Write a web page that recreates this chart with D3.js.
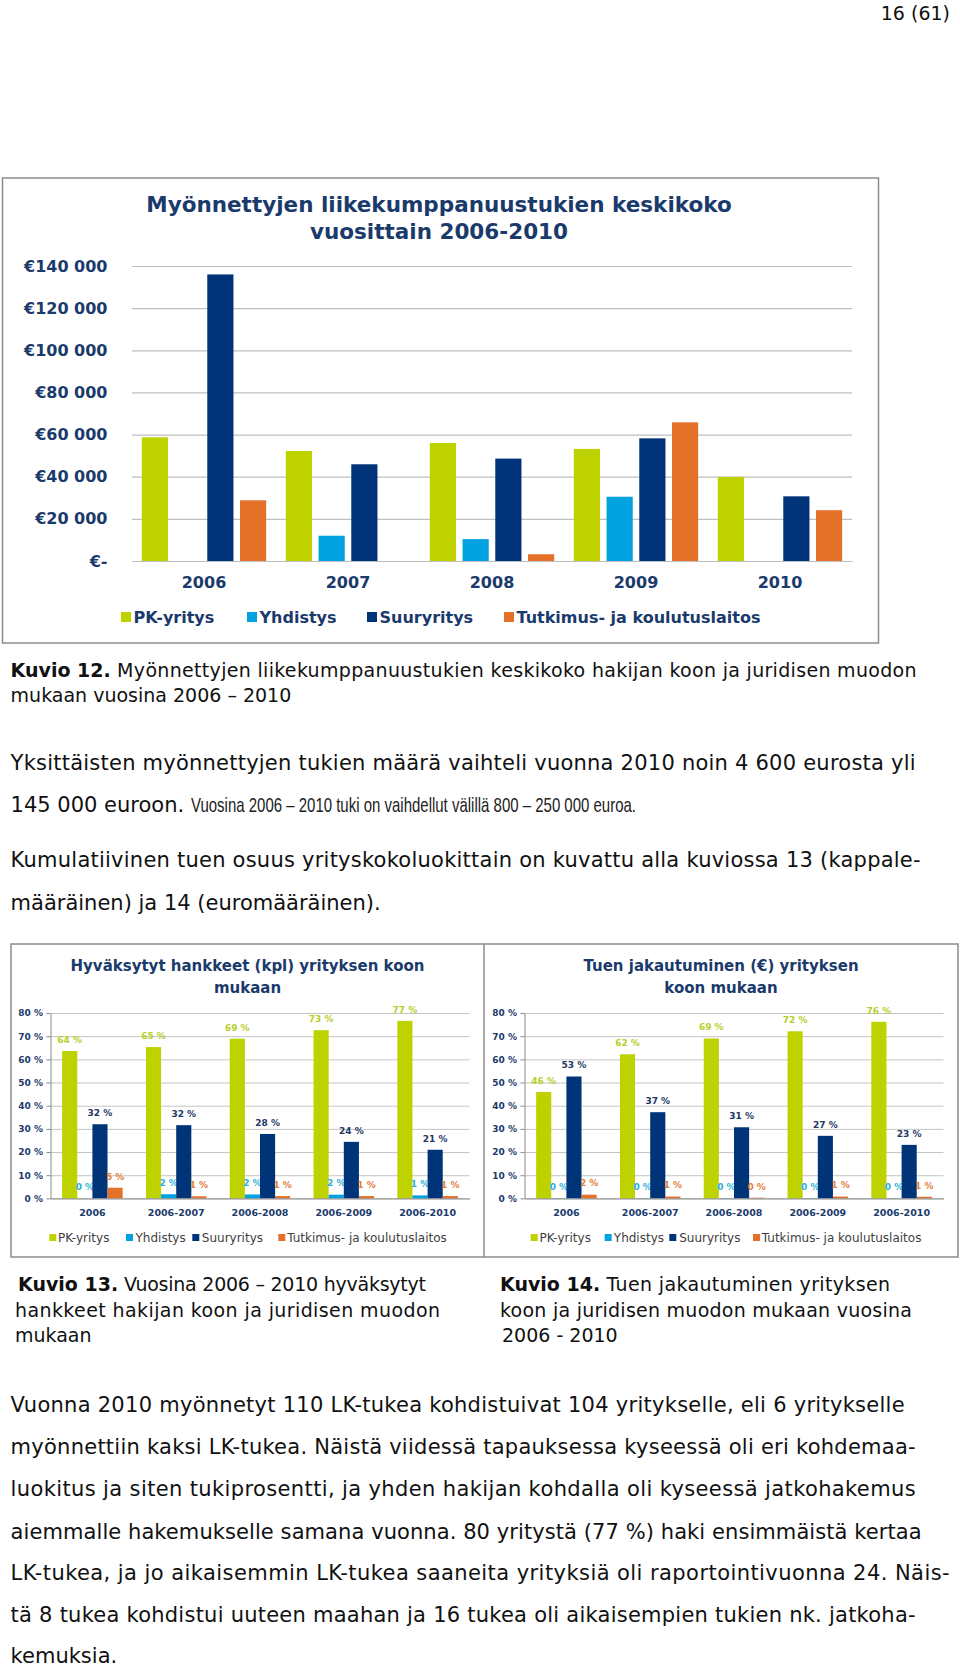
<!DOCTYPE html>
<html>
<head>
<meta charset="utf-8">
<script src="https://cdn.jsdelivr.net/npm/d3@7"></script>
<style>
  body { margin: 0; background: #fff; }
  svg text { font-family: "DejaVu Sans", Verdana, sans-serif; }
</style>
</head>
<body>
<div id="page"></div>
<script>
// Kuvio 12: average grant size per year (euros)
var years = ["2006", "2007", "2008", "2009", "2010"];
var seriesNames = ["PK-yritys", "Yhdistys", "Suuryritys", "Tutkimus- ja koulutuslaitos"];
var pkAvg = [58700, 52200, 56000, 53200, 39900];
var yhdAvg = [0, 12000, 10400, 30500, 0];
var suurAvg = [136000, 45900, 48600, 58200, 30700];
var tutkAvg = [28800, 0, 3200, 65800, 24100];
var euroTicks = [0, 20000, 40000, 60000, 80000, 100000, 120000, 140000];

// Kuvio 13 / 14: cumulative shares (%)
var periods = ["2006", "2006-2007", "2006-2008", "2006-2009", "2006-2010"];
var kplPK = [63.6, 65.3, 68.9, 72.6, 76.6];
var kplYhd = [0, 1.8, 1.7, 1.6, 1.3];
var kplSuur = [32.0, 31.6, 27.8, 24.4, 21.0];
var kplTutk = [4.6, 0.9, 1.0, 1.0, 1.0];
var eurPK = [45.9, 62.2, 69.0, 72.1, 76.2];
var eurYhd = [0.1, 0.1, 0.1, 0.1, 0.1];
var eurSuur = [52.6, 37.2, 30.7, 27.0, 23.1];
var eurTutk = [1.6, 0.8, 0.3, 0.8, 0.7];
var pctTicks = [0, 10, 20, 30, 40, 50, 60, 70, 80];

var colors = ["#BED200", "#00A3E0", "#003478", "#E4702A"];
var labelColors = ["#B9CE2A", "#2EB0D8", "#1F3864", "#E2803A"];
var navy = "#1B3A6C";

var svg = d3.select("#page").append("svg")
  .attr("width", 960)
  .attr("height", 1667)
  .attr("viewBox", "0 0 960 1667");

svg.append("rect").attr("width", 960).attr("height", 1667).attr("fill", "#fff");

// ---------- plain text helpers ----------
function textLine(x, y, parts, opt) {
  var size = opt.size || 21;
  var cx = x;
  var total = 0;
  var nodes = [];
  parts.forEach(function(p) {
    var t = svg.append("text")
      .attr("x", cx)
      .attr("y", y)
      .attr("font-size", size)
      .attr("font-weight", p.b ? "bold" : "normal")
      .attr("fill", "#111")
      .text(p.t);
    var w = t.node().getComputedTextLength();
    nodes.push({ t: t, w: w });
    cx += w;
    total += w;
  });
  // stretch the last (regular) part so the line ends at the measured width
  if (opt.w) {
    var last = nodes[nodes.length - 1];
    var fixed = total - last.w;
    last.t.attr("textLength", opt.w - fixed).attr("lengthAdjust", "spacing");
  }
  return cx;
}

var sp = "\u00a0";

// page number
svg.append("text")
  .attr("x", 950)
  .attr("y", 20)
  .attr("text-anchor", "end")
  .attr("font-size", 19)
  .attr("fill", "#111")
  .text("16 (61)");

// ---------- Kuvio 12 chart ----------
var c1 = svg.append("g");
c1.append("rect")
  .attr("x", 2.5).attr("y", 178)
  .attr("width", 876).attr("height", 465)
  .attr("fill", "#fff")
  .attr("stroke", "#8c8c8c")
  .attr("stroke-width", 1.5);

c1.append("text")
  .attr("x", 439).attr("y", 212)
  .attr("text-anchor", "middle")
  .attr("font-size", 21.5).attr("font-weight", "bold")
  .attr("fill", navy)
  .text("Myönnettyjen liikekumppanuustukien keskikoko");
c1.append("text")
  .attr("x", 439).attr("y", 238.5)
  .attr("text-anchor", "middle")
  .attr("font-size", 21.5).attr("font-weight", "bold")
  .attr("fill", navy)
  .text("vuosittain 2006-2010");

var xYear = d3.scaleBand().domain(years).range([132, 852]);
var xSeries = d3.scaleBand().domain(d3.range(4))
  .range([0, xYear.bandwidth()])
  .paddingInner(0.2)
  .paddingOuter(0.3);
var yEuro = d3.scaleLinear().domain([0, 140000]).range([561, 266]);

function fmtEuro(v) {
  if (v === 0) return "€-";
  return "€" + d3.format(",")(v).replace(/,/g, " ");
}

var yAxis1 = c1.append("g")
  .attr("transform", "translate(132,0)")
  .call(d3.axisLeft(yEuro).tickValues(euroTicks).tickSize(-720).tickPadding(24.5).tickFormat(fmtEuro));
yAxis1.select(".domain").remove();
yAxis1.selectAll("line").attr("stroke", "#BFBFBF").attr("stroke-width", 1.2);
yAxis1.selectAll("text")
  .attr("font-size", 16).attr("font-weight", "bold")
  .attr("fill", navy)
  .style("font-family", "DejaVu Sans");

var avgSeries = [pkAvg, yhdAvg, suurAvg, tutkAvg];
avgSeries.forEach(function(vals, i) {
  c1.append("g")
    .selectAll("rect")
    .data(vals)
    .enter()
    .append("rect")
    .attr("x", (d, j) => xYear(years[j]) + xSeries(i))
    .attr("y", d => yEuro(d))
    .attr("width", xSeries.bandwidth())
    .attr("height", d => yEuro(0) - yEuro(d))
    .attr("fill", colors[i]);
});

var xAxis1 = c1.append("g")
  .attr("transform", "translate(0,561)")
  .call(d3.axisBottom(xYear).tickSize(0).tickPadding(15.5));
xAxis1.select(".domain").attr("stroke", "#BFBFBF").attr("stroke-width", 1.2);
xAxis1.selectAll("text")
  .attr("font-size", 16).attr("font-weight", "bold")
  .attr("fill", navy)
  .style("font-family", "DejaVu Sans");

var legend1X = [121, 247, 367, 504];
seriesNames.forEach(function(name, i) {
  c1.append("rect")
    .attr("x", legend1X[i]).attr("y", 612)
    .attr("width", 10).attr("height", 10)
    .attr("fill", colors[i]);
  c1.append("text")
    .attr("x", legend1X[i] + 12.5).attr("y", 623)
    .attr("font-size", 16).attr("font-weight", "bold")
    .attr("fill", navy)
    .text(name);
});

// caption + paragraph
textLine(10.6, 676.5, [{ t: "Kuvio 12.", b: true }, { t: sp + "Myönnettyjen liikekumppanuustukien keskikoko hakijan koon ja juridisen muodon" }], { size: 19, w: 906 });
textLine(10.6, 701.5, [{ t: "mukaan vuosina 2006 – 2010" }], { size: 19 });

textLine(10.6, 769.5, [{ t: "Yksittäisten myönnettyjen tukien määrä vaihteli vuonna 2010 noin 4 600 eurosta yli" }], { w: 905 });
textLine(10.6, 811.5, [{ t: "145 000 euroon." }], {});
svg.append("text")
  .attr("x", 191).attr("y", 811.5)
  .attr("font-size", 21)
  .attr("fill", "#222")
  .style("font-family", "'Liberation Sans Narrow', 'Liberation Sans', sans-serif")
  .attr("textLength", 445).attr("lengthAdjust", "spacingAndGlyphs")
  .text("Vuosina 2006 – 2010 tuki on vaihdellut välillä 800 – 250 000 euroa.");
textLine(10.6, 866.5, [{ t: "Kumulatiivinen tuen osuus yrityskokoluokittain on kuvattu alla kuviossa 13 (kappale-" }], { w: 910 });
textLine(10.6, 909.5, [{ t: "määräinen) ja 14 (euromääräinen)." }], {});

// ---------- Kuvio 13 / 14 charts ----------
svg.append("rect")
  .attr("x", 11).attr("y", 944)
  .attr("width", 947).attr("height", 313)
  .attr("fill", "#fff")
  .attr("stroke", "#8c8c8c")
  .attr("stroke-width", 1.5);
svg.append("line")
  .attr("x1", 484).attr("x2", 484)
  .attr("y1", 944).attr("y2", 1257)
  .attr("stroke", "#8c8c8c")
  .attr("stroke-width", 1.5);

function pctChart(cfg) {
  var g = svg.append("g");
  var x0 = d3.scaleBand().domain(periods).range(cfg.xr);
  var x1 = d3.scaleBand().domain(d3.range(4))
    .range([0, x0.bandwidth()])
    .paddingInner(0)
    .paddingOuter(0.77);
  var y = d3.scaleLinear().domain([0, 80]).range([1198.4, 1013]);
  var w = cfg.xr[1] - cfg.xr[0];

  cfg.title.forEach(function(line, k) {
    g.append("text")
      .attr("x", cfg.titleX).attr("y", 970.5 + k * 22)
      .attr("text-anchor", "middle")
      .attr("font-size", 15).attr("font-weight", "bold")
      .attr("fill", navy)
      .text(line);
  });

  // grid
  var grid = g.append("g")
    .attr("transform", "translate(" + cfg.xr[0] + ",0)")
    .call(d3.axisLeft(y).tickValues(pctTicks).tickSize(-w).tickFormat(""));
  grid.select(".domain").remove();
  grid.selectAll("line").attr("stroke", "#C4C4C4");

  cfg.data.forEach(function(vals, i) {
    g.append("g")
      .selectAll("rect")
      .data(vals)
      .enter()
      .append("rect")
      .attr("x", (d, j) => x0(periods[j]) + x1(i))
      .attr("y", d => y(d))
      .attr("width", x1.bandwidth())
      .attr("height", d => y(0) - y(d))
      .attr("fill", colors[i]);
    g.append("g")
      .selectAll("text")
      .data(vals)
      .enter()
      .append("text")
      .attr("x", (d, j) => x0(periods[j]) + x1(i) + x1.bandwidth() / 2)
      .attr("y", d => y(d) - 8.2)
      .attr("text-anchor", "middle")
      .attr("font-size", 9).attr("font-weight", "bold")
      .attr("fill", labelColors[i])
      .text(d => d3.format(".0f")(d) + " %");
  });

  var ya = g.append("g")
    .attr("transform", "translate(" + cfg.xr[0] + ",0)")
    .call(d3.axisLeft(y).tickValues(pctTicks).tickSizeInner(4).tickSizeOuter(0).tickPadding(3.5).tickFormat(d => d + " %"));
  ya.select(".domain").attr("stroke", "#8a8a8a");
  ya.selectAll("line").attr("stroke", "#8a8a8a");
  ya.selectAll("text")
    .attr("font-size", 9).attr("font-weight", "bold")
    .attr("fill", navy)
    .style("font-family", "DejaVu Sans");

  var xa = g.append("g")
    .attr("transform", "translate(0,1198.4)")
    .call(d3.axisBottom(x0).tickSize(0).tickPadding(10.7));
  xa.select(".domain").attr("stroke", "#8a8a8a");
  xa.selectAll("text")
    .attr("font-size", 9.5).attr("font-weight", "bold")
    .attr("fill", navy)
    .style("font-family", "DejaVu Sans");

  seriesNames.forEach(function(name, i) {
    g.append("rect")
      .attr("x", cfg.legSq[i]).attr("y", 1234)
      .attr("width", 7).attr("height", 7)
      .attr("fill", colors[i]);
    g.append("text")
      .attr("x", cfg.legTx[i]).attr("y", 1242)
      .attr("font-size", 12)
      .attr("fill", "#404040")
      .text(name);
  });
}

pctChart({
  xr: [50.5, 469.5],
  titleX: 247.5,
  title: ["Hyväksytyt hankkeet (kpl) yrityksen koon", "mukaan"],
  data: [kplPK, kplYhd, kplSuur, kplTutk],
  legSq: [49.3, 126, 192.3, 278.3],
  legTx: [58, 135.5, 201.8, 287.2]
});

pctChart({
  xr: [524.5, 943.5],
  titleX: 721,
  title: ["Tuen jakautuminen (€) yrityksen", "koon mukaan"],
  data: [eurPK, eurYhd, eurSuur, eurTutk],
  legSq: [530.7, 604.7, 669.3, 753],
  legTx: [539.5, 613.8, 679.2, 761.8]
});

// captions under the two charts
textLine(18, 1290.5, [{ t: "Kuvio 13.", b: true }, { t: sp + "Vuosina 2006 – 2010 hyväksytyt" }], { size: 19, w: 408 });
textLine(15, 1316.5, [{ t: "hankkeet hakijan koon ja juridisen muodon" }], { size: 19, w: 425 });
textLine(15, 1341.5, [{ t: "mukaan" }], { size: 19 });
textLine(500, 1290.5, [{ t: "Kuvio 14.", b: true }, { t: sp + "Tuen jakautuminen yrityksen" }], { size: 19, w: 390 });
textLine(500, 1316.5, [{ t: "koon ja juridisen muodon mukaan vuosina" }], { size: 19, w: 412 });
textLine(502, 1341.5, [{ t: "2006 - 2010" }], { size: 19 });

// closing paragraph
textLine(10.6, 1411.5, [{ t: "Vuonna 2010 myönnetyt 110 LK-tukea kohdistuivat 104 yritykselle, eli 6 yritykselle" }], { w: 894 });
textLine(10.6, 1453.5, [{ t: "myönnettiin kaksi LK-tukea. Näistä viidessä tapauksessa kyseessä oli eri kohdemaa-" }], { w: 905 });
textLine(10.6, 1495.5, [{ t: "luokitus ja siten tukiprosentti, ja yhden hakijan kohdalla oli kyseessä jatkohakemus" }], { w: 905 });
textLine(10.6, 1538.5, [{ t: "aiemmalle hakemukselle samana vuonna. 80 yritystä (77 %) haki ensimmäistä kertaa" }], { w: 911 });
textLine(10.6, 1579.5, [{ t: "LK-tukea, ja jo aikaisemmin LK-tukea saaneita yrityksiä oli raportointivuonna 24. Näis-" }], { w: 939 });
textLine(10.6, 1621.5, [{ t: "tä 8 tukea kohdistui uuteen maahan ja 16 tukea oli aikaisempien tukien nk. jatkoha-" }], { w: 905 });
textLine(10.6, 1662.5, [{ t: "kemuksia." }], {});
</script>
</body>
</html>
